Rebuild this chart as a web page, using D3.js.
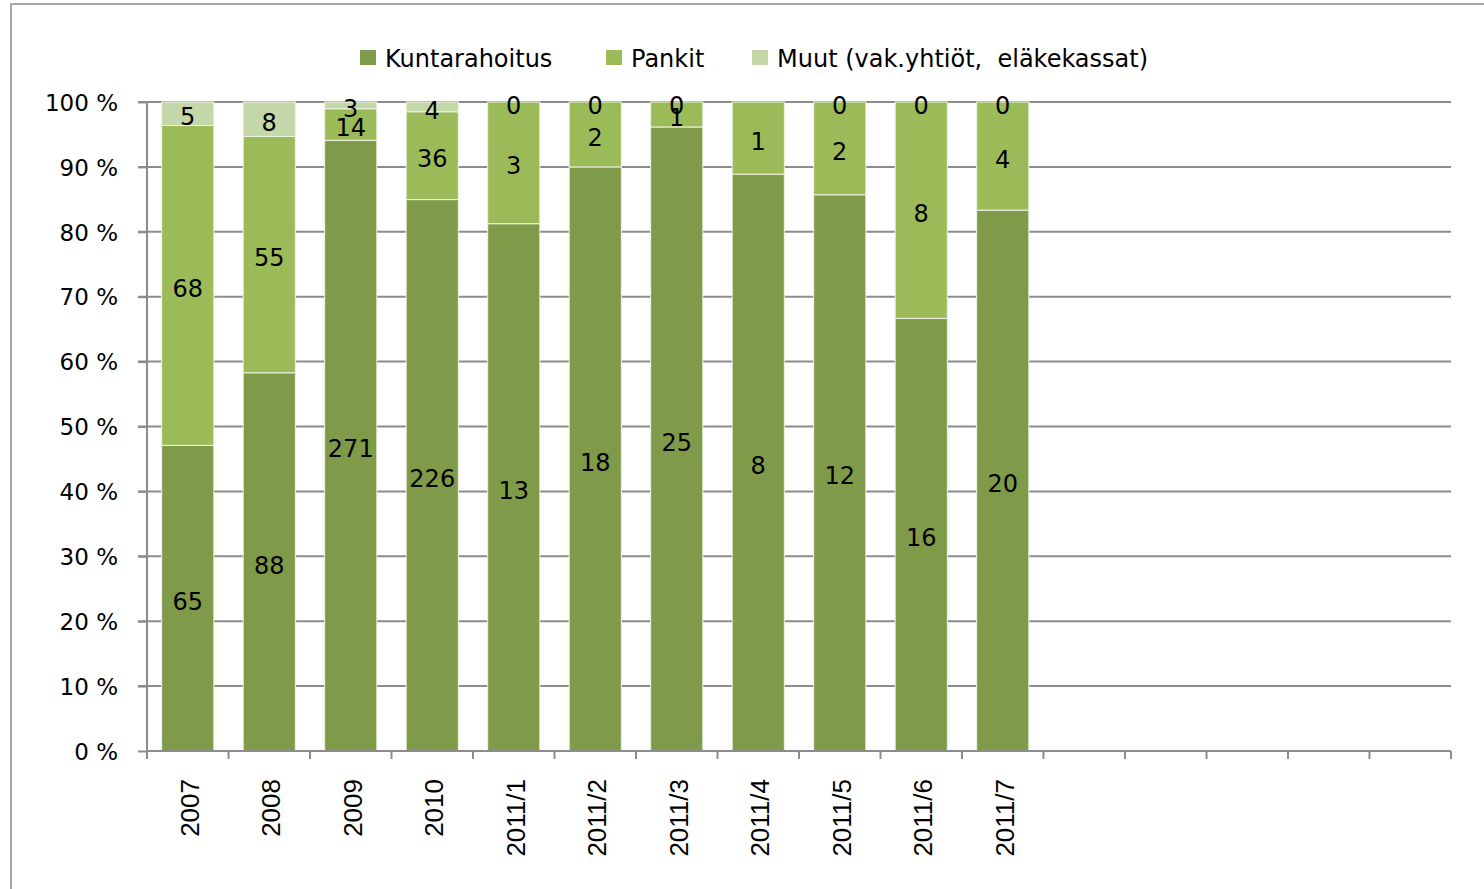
<!DOCTYPE html>
<html>
<head>
<meta charset="utf-8">
<script src="https://cdn.jsdelivr.net/npm/d3@7"></script>
<style>
  html, body { margin: 0; padding: 0; background: #fff; }
  svg { display: block; }
</style>
</head>
<body>
<svg id="chart" width="1484" height="889"></svg>
<script>
// ---- data ----
const categories = ["2007", "2008", "2009", "2010", "2011/1", "2011/2", "2011/3", "2011/4", "2011/5", "2011/6", "2011/7", "", "", "", "", ""];
const seriesNames = ["Kuntarahoitus", "Pankit", "Muut (vak.yhtiöt,  eläkekassat)"];
const kuntarahoitus = [65, 88, 271, 226, 13, 18, 25, 8, 12, 16, 20, null, null, null, null, null];
const pankit        = [68, 55, 14, 36, 3, 2, 1, 1, 2, 8, 4, null, null, null, null, null];
const muut          = [5, 8, 3, 4, 0, 0, 0, null, 0, 0, 0, null, null, null, null, null];
const yTicks = [0, 0.1, 0.2, 0.3, 0.4, 0.5, 0.6, 0.7, 0.8, 0.9, 1.0];
const colors = ["#7f9a48", "#9bbb59", "#c4d7a8"];

// ---- layout ----
const svg = d3.select("#chart");
const plotL = 147, plotR = 1451, plotT = 102, plotB = 751;
const font = "'DejaVu Sans', sans-serif";

// frame
svg.append("rect").attr("x", 11).attr("y", 4).attr("width", 1600).attr("height", 1000)
  .attr("fill", "none").attr("stroke", "#a6a6a6").attr("stroke-width", 2);

const x = d3.scaleBand().domain(d3.range(categories.length)).range([plotL, plotR])
  .paddingInner(0.36).paddingOuter(0.18);
const y = d3.scaleLinear().domain([0, 1]).range([plotB, plotT]);

const seriesData = [kuntarahoitus, pankit, muut];
const rows = categories.map((c, i) => {
  const vals = seriesData.map(s => s[i]);
  const total = d3.sum(vals.map(v => v || 0));
  return { i, vals, total };
});

// gridlines
svg.append("g").selectAll("line").data(yTicks.filter(t => t > 0)).join("line")
  .attr("x1", plotL - 9).attr("x2", plotR)
  .attr("y1", d => y(d)).attr("y2", d => y(d))
  .attr("stroke", "#8c8c8c").attr("stroke-width", 2);

// y axis
const yAxis = svg.append("g").attr("transform", `translate(${plotL},0)`)
  .call(d3.axisLeft(y).tickValues(yTicks).tickSize(9).tickFormat(d => Math.round(d * 100) + " %"));
yAxis.select(".domain").attr("stroke", "#8c8c8c").attr("stroke-width", 2).attr("d", `M0,${plotT}V${plotB}`);
yAxis.selectAll(".tick line").attr("stroke", "#8c8c8c").attr("stroke-width", 2);
yAxis.selectAll(".tick text").attr("x", -29).attr("dy", "0.36em")
  .style("font-family", font).style("font-size", "23px").attr("fill", "#000");

// bars
const stackG = svg.append("g");
rows.forEach(r => {
  if (!r.total) return;
  let cum = 0;
  r.vals.forEach((v, k) => {
    if (v === null) return;
    const y0 = cum / r.total, y1 = (cum + v) / r.total;
    cum += v;
    if (v > 0) {
      stackG.append("rect")
        .attr("x", x(r.i)).attr("width", x.bandwidth())
        .attr("y", y(y1)).attr("height", y(y0) - y(y1))
        .attr("fill", colors[k]).attr("stroke", "#eef3e4").attr("stroke-width", 1);
    }
  });
});

// x axis
const xAxis = svg.append("g").attr("transform", `translate(0,${plotB})`);
xAxis.append("line").attr("x1", plotL).attr("x2", plotR).attr("y1", 0).attr("y2", 0)
  .attr("stroke", "#8c8c8c").attr("stroke-width", 2);
const step = x.step();
xAxis.selectAll("line.tk").data(d3.range(categories.length + 1)).join("line").attr("class", "tk")
  .attr("x1", d => plotL + d * step).attr("x2", d => plotL + d * step)
  .attr("y1", 0).attr("y2", 8).attr("stroke", "#8c8c8c").attr("stroke-width", 2);
xAxis.selectAll("text").data(d3.range(categories.length)).join("text")
  .attr("transform", d => `translate(${x(d) + x.bandwidth() / 2 + 2},28) rotate(-90)`)
  .attr("text-anchor", "end").attr("dy", "0.35em")
  .style("font-family", "'Liberation Sans', Arial, sans-serif").style("font-size", "26px")
  .text(d => categories[d]);

// data labels
const lblG = svg.append("g");
rows.forEach(r => {
  if (!r.total) return;
  let cum = 0;
  r.vals.forEach((v, k) => {
    if (v === null) return;
    const mid = (cum + v / 2) / r.total;
    cum += v;
    lblG.append("text")
      .attr("x", x(r.i) + x.bandwidth() / 2).attr("y", y(mid) + 3)
      .attr("dy", "0.36em").attr("text-anchor", "middle")
      .style("font-family", font).style("font-size", "24px").attr("fill", "#000")
      .text(v);
  });
});

// legend
const legendX = [360, 606, 752];
const lg = svg.append("g");
seriesNames.forEach((n, k) => {
  lg.append("rect").attr("x", legendX[k]).attr("y", 50).attr("width", 16).attr("height", 15).attr("fill", colors[k]);
  lg.append("text").attr("x", legendX[k] + 25).attr("y", 58).attr("dy", "0.36em")
    .style("font-family", font).style("font-size", "24px").attr("fill", "#000")
    .style("white-space", "pre").attr("xml:space", "preserve").text(n);
});
</script>
</body>
</html>
